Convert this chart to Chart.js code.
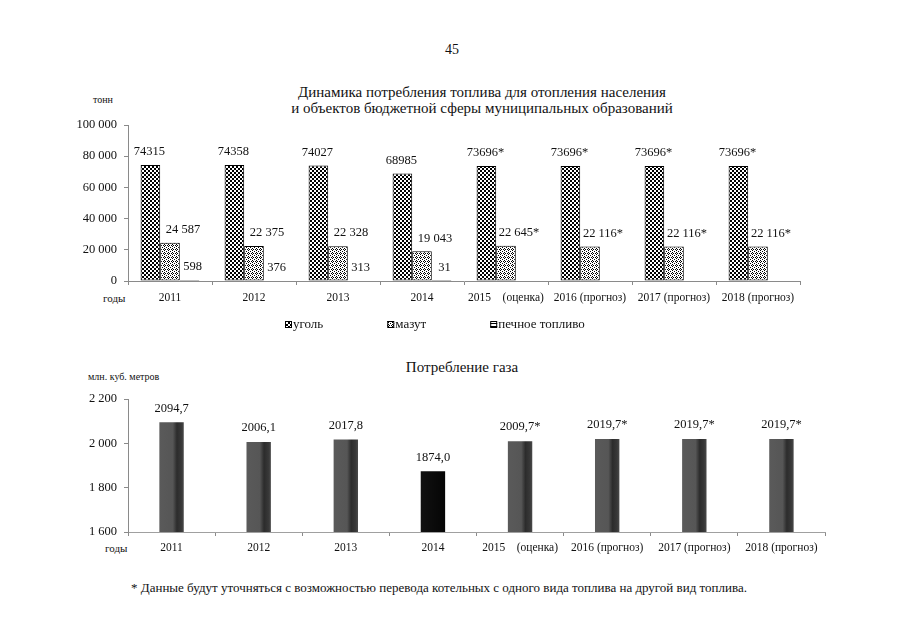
<!DOCTYPE html>
<html><head><meta charset="utf-8">
<script src="https://cdn.jsdelivr.net/npm/chart.js@4.4.1/dist/chart.umd.min.js"></script>
<style>
html,body{margin:0;padding:0;background:#fff;width:905px;height:640px;overflow:hidden;position:relative;font-family:"Liberation Serif","Times New Roman",serif;color:#111}
.t{position:absolute;white-space:nowrap;line-height:1;transform:translate(-50%,-50%)}
.l{position:absolute;white-space:nowrap;line-height:1;transform:translateY(-50%)}
#w1{position:absolute;left:0;top:110px;width:905px;height:230px}
#w2{position:absolute;left:0;top:380px;width:905px;height:180px}
</style></head><body>
<div class="t" style="left:452px;top:50px;font-size:14px">45</div>
<div class="t" style="left:482px;top:92px;font-size:15px">Динамика потребления топлива для отопления населения</div>
<div class="t" style="left:482px;top:108px;font-size:15px">и объектов бюджетной сферы муниципальных образований</div>
<div class="l" style="left:93px;top:100px;font-size:10px">тонн</div>
<div class="l" style="left:103px;top:298px;font-size:11px">годы</div>
<div class="t" style="left:462px;top:367px;font-size:15px">Потребление газа</div>
<div class="l" style="left:88px;top:377px;font-size:10px">млн. куб. метров</div>
<div class="l" style="left:105px;top:548px;font-size:11px">годы</div>
<div class="t" style="left:439px;top:587px;font-size:13px">* Данные будут уточняться с возможностью перевода котельных с одного вида топлива на другой вид топлива.</div>
<div id="w1"><canvas id="c1"></canvas></div>
<div id="w2"><canvas id="c2"></canvas></div>
<script>
// ---- data ----
const categories = ['2011', '2012', '2013', '2014', '2015\u00a0\u00a0\u00a0\u00a0(оценка)', '2016 (прогноз)', '2017 (прогноз)', '2018 (прогноз)'];
const forecastMark = ['', '', '', '', '*', '*', '*', '*'];
const coal = [74315, 74358, 74027, 68985, 73696, 73696, 73696, 73696];
const fuelOil = [24587, 22375, 22328, 19043, 22645, 22116, 22116, 22116];
const stoveFuel = [598, 376, 313, 31, null, null, null, null];
const gas = [2094.7, 2006.1, 2017.8, 1874.0, 2009.7, 2019.7, 2019.7, 2019.7];
const seriesNames = ['уголь', 'мазут', 'печное топливо'];
const fuelTicks = [0, 20000, 40000, 60000, 80000, 100000];
const gasTicks = [1600, 1800, 2000, 2200];

const FONT = '"Liberation Serif","Times New Roman",serif';
const spaced = v => String(v).replace(/\B(?=(\d{3})+(?!\d))/g, ' ');

function makePattern(w, h, draw) {
  const c = document.createElement('canvas'); c.width = w; c.height = h;
  const g = c.getContext('2d'); g.fillStyle = '#fff'; g.fillRect(0, 0, w, h); g.fillStyle = '#000';
  draw(g); return g.createPattern(c, 'repeat');
}
const checker = makePattern(4, 4, g => { g.fillRect(0, 0, 2, 2); g.fillRect(2, 2, 2, 2); });
const stipple = makePattern(4, 4, g => { [[0,0],[2,1],[0,2],[3,3],[1,3]].forEach(p => g.fillRect(p[0], p[1], 1, 1)); });
const hlines = makePattern(4, 3, g => { g.fillRect(0, 0, 4, 1); });

// data label plugin
const valueLabels = {
  id: 'valueLabels',
  afterDatasetsDraw(chart, args, opts) {
    const ctx = chart.ctx;
    ctx.save();
    ctx.font = opts.size + 'px ' + FONT;
    ctx.fillStyle = '#111';
    ctx.textAlign = 'center';
    ctx.textBaseline = 'middle';
    chart.data.datasets.forEach((ds, di) => {
      const meta = chart.getDatasetMeta(di);
      meta.data.forEach((el, i) => {
        const v = ds.data[i];
        if (v === null || v === undefined) return;
        const txt = opts.format[di](v, i);
        ctx.fillText(txt, el.x + opts.dx[di], el.y - opts.dy);
      });
    });
    ctx.restore();
  }
};

// custom legend plugin (spacing as in original)
const wideLegend = {
  id: 'wideLegend',
  afterDraw(chart, args, opts) {
    const ctx = chart.ctx;
    ctx.save();
    ctx.font = '13px ' + FONT;
    ctx.textBaseline = 'middle';
    ctx.fillStyle = '#111';
    let x = chart.chartArea.left + opts.startOffset;
    const y = opts.y;
    chart.data.datasets.forEach(ds => {
      ctx.fillStyle = ds.backgroundColor;
      ctx.fillRect(x, y - 4, 7, 7);
      ctx.strokeStyle = '#000'; ctx.lineWidth = 1;
      ctx.strokeRect(x + 0.5, y - 3.5, 6, 6);
      ctx.fillStyle = '#111';
      ctx.fillText(ds.label, x + 8, y);
      x += 8 + ctx.measureText(ds.label).width + opts.gap;
    });
    ctx.restore();
  }
};

const axisColor = '#8a8a8a';

new Chart(document.getElementById('c1'), {
  type: 'bar',
  data: {
    labels: categories,
    datasets: [
      { label: seriesNames[0], data: coal, backgroundColor: checker, borderColor: '#000', borderWidth: 1, borderSkipped: false },
      { label: seriesNames[1], data: fuelOil, backgroundColor: stipple, borderColor: '#000', borderWidth: 1, borderSkipped: false },
      { label: seriesNames[2], data: stoveFuel, backgroundColor: hlines, borderColor: '#000', borderWidth: 1, borderSkipped: false }
    ]
  },
  options: {
    responsive: true, maintainAspectRatio: false, animation: false,
    layout: { padding: { left: 0, right: 105, top: 15, bottom: 19 } },
    datasets: { bar: { categoryPercentage: 0.7, barPercentage: 1.0 } },
    plugins: {
      legend: { display: false }, tooltip: { enabled: false },
      valueLabels: {
        size: 12.5, dy: 13, dx: [-1, 13, 3],
        format: [
          (v, i) => String(v) + forecastMark[i],
          (v, i) => spaced(v) + forecastMark[i],
          (v, i) => String(v)
        ]
      },
      wideLegend: { startOffset: 157, y: 215, gap: 64 }
    },
    scales: {
      x: {
        grid: { display: true, offset: true, drawOnChartArea: false, drawTicks: true, tickLength: 4, color: axisColor },
        border: { color: axisColor },
        ticks: { color: '#111', font: { family: FONT, size: 11.5 }, padding: 6, maxRotation: 0, autoSkip: false },
        afterFit(s) { s.height = 40; }
      },
      y: {
        min: fuelTicks[0], max: fuelTicks[fuelTicks.length - 1],
        afterBuildTicks(s) { s.ticks = fuelTicks.map(v => ({ value: v })); },
        grid: { display: true, drawOnChartArea: false, drawTicks: true, tickLength: 4, color: axisColor },
        border: { color: axisColor },
        ticks: { color: '#111', font: { family: FONT, size: 12.5 }, padding: 7, callback: v => spaced(v) },
        afterFit(s) { s.width = 128; }
      }
    }
  },
  plugins: [valueLabels, wideLegend]
});

function gasFill(context) {
  const chart = context.chart;
  const dark = context.dataIndex === 3;
  if (!chart.chartArea || !chart.scales.x) return dark ? '#0a0a0a' : '#555';
  const xs = chart.scales.x;
  const cx = xs.getPixelForValue(context.dataIndex);
  const hw = xs.width / categories.length * 0.28 / 2;
  const g = chart.ctx.createLinearGradient(cx - hw, 0, cx + hw, 0);
  if (dark) {
    g.addColorStop(0, '#111'); g.addColorStop(1, '#050505');
  } else {
    g.addColorStop(0, '#5a5a5a'); g.addColorStop(0.55, '#565656');
    g.addColorStop(0.72, '#2c2c2c'); g.addColorStop(0.9, '#383838'); g.addColorStop(1, '#4a4a4a');
  }
  return g;
}

new Chart(document.getElementById('c2'), {
  type: 'bar',
  data: {
    labels: categories,
    datasets: [
      { label: 'газ', data: gas, backgroundColor: gasFill, borderWidth: 0 }
    ]
  },
  options: {
    responsive: true, maintainAspectRatio: false, animation: false,
    layout: { padding: { left: 0, right: 80, top: 19, bottom: 0 } },
    datasets: { bar: { categoryPercentage: 1.0, barPercentage: 0.28 } },
    plugins: {
      legend: { display: false }, tooltip: { enabled: false },
      valueLabels: {
        size: 12.5, dy: 14, dx: [0],
        format: [ (v, i) => v.toFixed(1).replace('.', ',') + forecastMark[i] ]
      }
    },
    scales: {
      x: {
        grid: { display: true, offset: true, drawOnChartArea: false, drawTicks: true, tickLength: 4, color: axisColor },
        border: { color: '#a0a0a0' },
        ticks: { color: '#111', font: { family: FONT, size: 11.5 }, padding: 5, maxRotation: 0, autoSkip: false },
        afterFit(s) { s.height = 28; }
      },
      y: {
        min: gasTicks[0], max: gasTicks[gasTicks.length - 1],
        afterBuildTicks(s) { s.ticks = gasTicks.map(v => ({ value: v })); },
        grid: { display: true, drawOnChartArea: false, drawTicks: true, tickLength: 4, color: axisColor },
        border: { color: axisColor },
        ticks: { color: '#111', font: { family: FONT, size: 12.5 }, padding: 7, callback: v => spaced(v) },
        afterFit(s) { s.width = 128; }
      }
    }
  },
  plugins: [valueLabels]
});
</script>
</body></html>
